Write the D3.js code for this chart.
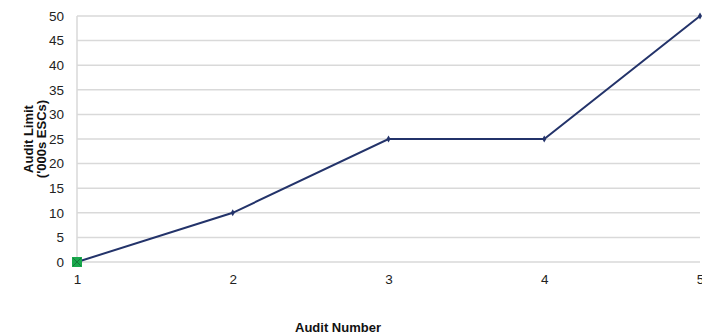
<!DOCTYPE html>
<html>
<head>
<meta charset="utf-8">
<script src="https://cdn.jsdelivr.net/npm/d3@7"></script>
<style>
  html, body { margin: 0; padding: 0; background: #fff; }
  svg { display: block; font-family: "Liberation Sans", Arial, sans-serif; }
</style>
</head>
<body>
<svg id="chart" width="702" height="335"></svg>
<script>
// Audit limit by audit number
const auditNumbers = [1, 2, 3, 4, 5];
const auditLimits = [0, 10, 25, 25, 50];
const yTicks = [0, 5, 10, 15, 20, 25, 30, 35, 40, 45, 50];

const svg = d3.select("#chart");
const margin = { left: 77, right: 2, top: 16, bottom: 73 };
const W = 702, H = 335;

const x = d3.scaleLinear().domain([1, 5]).range([margin.left, W - margin.right]);
const y = d3.scaleLinear().domain([0, 50]).range([H - margin.bottom, margin.top]);

// horizontal gridlines
svg.append("g")
  .selectAll("line")
  .data(yTicks)
  .join("line")
  .attr("x1", margin.left).attr("x2", W - margin.right)
  .attr("y1", d => y(d)).attr("y2", d => y(d))
  .attr("stroke", "#d9d9d9").attr("stroke-width", 1.5);

// vertical axis line
svg.append("line")
  .attr("x1", x(1)).attr("x2", x(1))
  .attr("y1", y(50)).attr("y2", y(0))
  .attr("stroke", "#d9d9d9").attr("stroke-width", 1.5);

// y-axis tick labels
const yAxis = d3.axisLeft(y).tickValues(yTicks).tickSize(0).tickPadding(13);
svg.append("g")
  .attr("transform", `translate(${margin.left},0)`)
  .call(yAxis)
  .call(g => g.select(".domain").remove())
  .call(g => g.selectAll("text").attr("font-size", 13.5).attr("fill", "#222")
    .attr("font-family", "Liberation Sans, Arial, sans-serif"));

// x-axis tick labels
const xAxis = d3.axisBottom(x).tickValues(auditNumbers).tickFormat(d3.format("d")).tickSize(0).tickPadding(12);
svg.append("g")
  .attr("transform", `translate(0,${y(0)})`)
  .call(xAxis)
  .call(g => g.select(".domain").remove())
  .call(g => g.selectAll("text").attr("font-size", 13.5).attr("fill", "#222")
    .attr("font-family", "Liberation Sans, Arial, sans-serif"));

const pts = auditNumbers.map((n, i) => ({ n, v: auditLimits[i] }));

// series line
svg.append("path")
  .datum(pts)
  .attr("fill", "none")
  .attr("stroke", "#23336a")
  .attr("stroke-width", 2)
  .attr("d", d3.line().x(d => x(d.n)).y(d => y(d.v)));

// small diamond markers
svg.append("g")
  .selectAll("path")
  .data(pts.slice(1))
  .join("path")
  .attr("transform", d => `translate(${x(d.n)},${y(d.v)})`)
  .attr("d", d3.symbol(d3.symbolDiamond, 14)())
  .attr("fill", "#23336a");

// highlighted first point
const p0 = pts[0];
svg.append("rect")
  .attr("x", x(p0.n) - 5).attr("y", y(p0.v) - 5)
  .attr("width", 10).attr("height", 10)
  .attr("fill", "#19a84c");
svg.append("path")
  .attr("d", `M${x(p0.n) - 4},${y(p0.v) - 4}L${x(p0.n) + 4},${y(p0.v) + 4}M${x(p0.n) + 4},${y(p0.v) - 4}L${x(p0.n) - 4},${y(p0.v) + 4}`)
  .attr("stroke", "#157a3a").attr("stroke-width", 1);

// axis titles
const yTitle = svg.append("text")
  .attr("transform", `translate(33,${(y(0) + y(50)) / 2}) rotate(-90)`)
  .attr("text-anchor", "middle")
  .attr("font-size", 13).attr("font-weight", "bold").attr("fill", "#111");
yTitle.append("tspan").attr("x", 0).attr("dy", 0).text("Audit Limit");
yTitle.append("tspan").attr("x", 0).attr("dy", 13).text("('000s ESCs)");

svg.append("text")
  .attr("x", 338).attr("y", 332)
  .attr("text-anchor", "middle")
  .attr("font-size", 13).attr("font-weight", "bold").attr("fill", "#111")
  .text("Audit Number");
</script>
</body>
</html>
